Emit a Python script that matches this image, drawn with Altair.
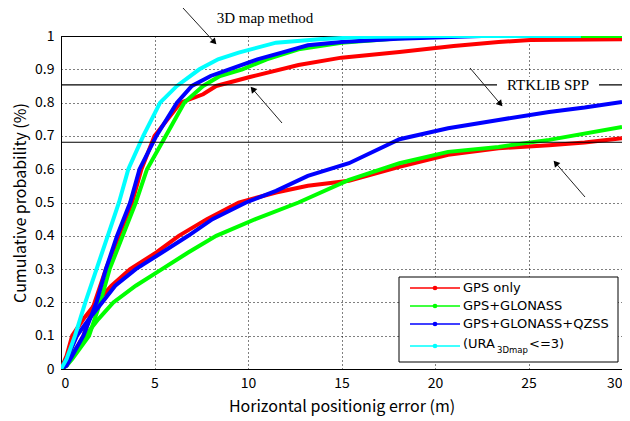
import math
import altair as alt
import pandas as pd

# ---------------- data ----------------
series_names = ["GPS only", "GPS+GLONASS", "GPS+GLONASS+QZSS", "(URA3Dmap<=3)"]
series_colors = ["#ff0000", "#00ff00", "#0000ff", "#00ffff"]

# 3D map method curves (upper group)
map_red_x = [0, 0.3, 0.6, 1.2, 1.8, 2.4, 3.1, 3.8, 4.3, 5.0, 6.4, 7.6, 8.3, 10.1, 12.7, 15.0, 18.1, 21.0, 23.4, 25.1, 30]
map_red_p = [0, 0.01, 0.04, 0.10, 0.20, 0.30, 0.40, 0.50, 0.60, 0.70, 0.80, 0.825, 0.85, 0.877, 0.913, 0.935, 0.952, 0.970, 0.982, 0.988, 0.990]
map_green_x = [0, 0.3, 0.6, 1.5, 2.1, 2.6, 3.3, 4.0, 4.6, 5.6, 6.6, 7.6, 8.5, 9.7, 11.0, 12.7, 15.0, 18.1, 20.7, 30]
map_green_p = [0, 0.01, 0.03, 0.10, 0.20, 0.30, 0.40, 0.50, 0.60, 0.70, 0.80, 0.85, 0.88, 0.90, 0.93, 0.96, 0.98, 0.993, 1.0, 1.0]
map_blue_x = [0, 0.3, 0.6, 1.2, 1.9, 2.4, 3.0, 3.7, 4.2, 5.1, 6.2, 7.0, 8.0, 9.0, 10.5, 11.8, 13.2, 15.0, 18.0, 22.5, 23.8]
map_blue_p = [0, 0.01, 0.04, 0.10, 0.20, 0.30, 0.40, 0.50, 0.60, 0.70, 0.80, 0.85, 0.88, 0.90, 0.93, 0.95, 0.972, 0.982, 0.992, 1.0, 1.0]
map_cyan_x = [0, 0.3, 0.75, 1.3, 1.9, 2.5, 3.1, 3.6, 4.4, 5.3, 6.2, 7.4, 8.4, 9.5, 11.5, 13.8, 16.0, 20.0, 27.8]
map_cyan_p = [0, 0.03, 0.10, 0.20, 0.30, 0.40, 0.50, 0.60, 0.70, 0.80, 0.85, 0.90, 0.93, 0.95, 0.98, 0.99, 0.997, 1.0, 1.0]

# RTKLIB SPP curves (lower group)
spp_red_x = [0, 0.3, 0.6, 1.2, 1.9, 2.7, 3.7, 5.1, 6.3, 7.8, 9.5, 11.5, 13.2, 15.4, 18.1, 20.7, 23.4, 26.1, 28.0, 30]
spp_red_p = [0, 0.04, 0.10, 0.15, 0.20, 0.25, 0.30, 0.35, 0.40, 0.45, 0.50, 0.53, 0.55, 0.565, 0.607, 0.643, 0.663, 0.672, 0.68, 0.693]
spp_green_x = [0, 0.4, 1.3, 2.0, 2.8, 4.0, 5.4, 6.8, 8.3, 10.4, 12.7, 15.4, 18.1, 20.7, 23.4, 26.1, 30]
spp_green_p = [0, 0.03, 0.10, 0.15, 0.20, 0.25, 0.30, 0.35, 0.40, 0.45, 0.50, 0.568, 0.618, 0.652, 0.667, 0.688, 0.727]
spp_blue_x = [0, 0.4, 0.85, 1.5, 2.2, 2.9, 4.0, 5.4, 6.8, 8.1, 9.9, 11.5, 13.2, 15.4, 18.1, 20.7, 23.4, 26.1, 28.0, 30]
spp_blue_p = [0, 0.04, 0.10, 0.15, 0.20, 0.25, 0.30, 0.35, 0.40, 0.45, 0.50, 0.535, 0.58, 0.618, 0.69, 0.723, 0.748, 0.772, 0.785, 0.802]

ref_lines = [0.853, 0.681]

x_ticks = [0, 5, 10, 15, 20, 25, 30]
y_ticks = [0, 0.1, 0.2, 0.3, 0.4, 0.5, 0.6, 0.7, 0.8, 0.9, 1.0]

# ---------------- layout ----------------
W, H = 561, 333
SANS = "Noto Sans CJK JP"
LEG = "DejaVu Sans"
SERIF = "Liberation Serif"

rows = []
curves = [
    (series_names[0], "map", map_red_x, map_red_p),
    (series_names[0], "spp", spp_red_x, spp_red_p),
    (series_names[1], "map", map_green_x, map_green_p),
    (series_names[1], "spp", spp_green_x, spp_green_p),
    (series_names[2], "map", map_blue_x, map_blue_p),
    (series_names[2], "spp", spp_blue_x, spp_blue_p),
    (series_names[3], "map", map_cyan_x, map_cyan_p),
]
for s, g, xs, ps in curves:
    for xv, pv in zip(xs, ps):
        rows.append({"x": xv, "p": pv, "series": s, "group": s + "|" + g})
df = pd.DataFrame(rows)

xscale = alt.Scale(domain=[0, 30], nice=False, zero=False)
yscale = alt.Scale(domain=[0, 1], nice=False)
y_axis = alt.Axis(values=y_ticks, format="~g", labelOverlap=False,
                  title="Cumulative probability (%)")

lines = alt.Chart(df).mark_line(strokeWidth=4, clip=True).encode(
    x=alt.X("x:Q", scale=xscale,
            axis=alt.Axis(values=x_ticks, format="d", title="Horizontal positionig error (m)")),
    y=alt.Y("p:Q", scale=yscale, axis=y_axis),
    color=alt.Color("series:N", scale=alt.Scale(domain=series_names, range=series_colors), legend=None),
    detail="group:N",
)

refs = alt.Chart(pd.DataFrame({"p": ref_lines})).mark_rule(color="black", strokeWidth=1.2).encode(
    y=alt.Y("p:Q", scale=yscale, axis=y_axis),
    x=alt.value(0), x2=alt.value(W),
)

# annotations
def arrow(x0, y0, x1, y1):
    dx, dy = x1 - x0, y1 - y0
    L = math.hypot(dx, dy)
    ux, uy = dx / L, dy / L
    r = 4.0
    cx, cy = x1 - ux * r, y1 - uy * r
    ang = math.degrees(math.atan2(dx, -dy)) % 360
    shaft = alt.Chart(pd.DataFrame({"a": [0]})).mark_rule(color="#222222", strokeWidth=1).encode(
        x=alt.value(x0), y=alt.value(y0), x2=alt.value(cx), y2=alt.value(cy))
    head = alt.Chart(pd.DataFrame({"a": [0]})).mark_point(
        shape="triangle-up", filled=True, color="black", size=50, angle=ang, opacity=1).encode(
        x=alt.value(cx), y=alt.value(cy))
    return shaft + head

arrows = (arrow(122, -28, 156, 9) + arrow(221, 87, 189, 50)
          + arrow(409, 32, 442, 71) + arrow(524, 161, 492, 124))

gap = alt.Chart(pd.DataFrame({"a": [0]})).mark_rect(color="white").encode(
    x=alt.value(436), x2=alt.value(538), y=alt.value(41), y2=alt.value(57))

lbl_map = alt.Chart(pd.DataFrame({"t": ["3D map method"]})).mark_text(
    font=SERIF, fontSize=15, color="black").encode(text="t:N", x=alt.value(204), y=alt.value(-18))
lbl_spp = alt.Chart(pd.DataFrame({"t": ["RTKLIB SPP"]})).mark_text(
    font=SERIF, fontSize=15, color="black").encode(text="t:N", x=alt.value(487), y=alt.value(49))

# manual legend
LX0, LX1, LY0, LY1 = 338, 557, 241, 326
legend_box = alt.Chart(pd.DataFrame({"a": [0]})).mark_rect(
    fill="white", stroke="black", strokeWidth=1).encode(
    x=alt.value(LX0), x2=alt.value(LX1), y=alt.value(LY0), y2=alt.value(LY1))
row_y = [252, 270, 288, 310]
LFS = 13
legend_layers = [legend_box]
for i, (name, col) in enumerate(zip(series_names, series_colors)):
    yy = row_y[i]
    legend_layers.append(alt.Chart(pd.DataFrame({"a": [0]})).mark_rule(color=col, strokeWidth=1.5).encode(
        x=alt.value(349), x2=alt.value(399), y=alt.value(yy)))
    legend_layers.append(alt.Chart(pd.DataFrame({"a": [0]})).mark_point(
        color=col, filled=True, size=22, opacity=1).encode(x=alt.value(374), y=alt.value(yy)))
    if i < 3:
        legend_layers.append(alt.Chart(pd.DataFrame({"t": [name]})).mark_text(
            font=LEG, fontSize=LFS, align="left", baseline="middle", color="black").encode(
            text="t:N", x=alt.value(402), y=alt.value(yy)))
legend_layers.append(alt.Chart(pd.DataFrame({"t": ["(URA"]})).mark_text(
    font=LEG, fontSize=LFS, align="left", baseline="middle", color="black").encode(
    text="t:N", x=alt.value(402), y=alt.value(row_y[3] - 2)))
legend_layers.append(alt.Chart(pd.DataFrame({"t": ["3Dmap"]})).mark_text(
    font=LEG, fontSize=8.5, align="left", baseline="middle", color="black").encode(
    text="t:N", x=alt.value(436), y=alt.value(row_y[3] + 4)))
legend_layers.append(alt.Chart(pd.DataFrame({"t": ["<=3)"]})).mark_text(
    font=LEG, fontSize=LFS, align="left", baseline="middle", color="black").encode(
    text="t:N", x=alt.value(468), y=alt.value(row_y[3] - 2)))

chart = alt.layer(lines, refs, arrows, gap, lbl_map, lbl_spp, *legend_layers).properties(
    width=W, height=H,
    autosize=alt.AutoSizeParams(type="none"),
    padding={"left": 53, "top": 28, "right": 0, "bottom": 50},
    background="white",
).configure_view(stroke="black", strokeWidth=1).configure_axis(
    grid=True, gridColor="black", gridDash=[1, 3], gridOpacity=1, gridWidth=1,
    domain=True, domainColor="black", domainWidth=1,
    ticks=False, labelPadding=7, labelOverlap=False,
    labelFont=SANS, labelFontSize=14, labelColor="black",
    titleFont=SANS, titleFontSize=16, titleFontWeight="normal", titleColor="black",
).configure_axisY(titlePadding=6).configure_axisX(titlePadding=8)

chart.save("out.html", embed_options={"renderer": "svg", "actions": False})
